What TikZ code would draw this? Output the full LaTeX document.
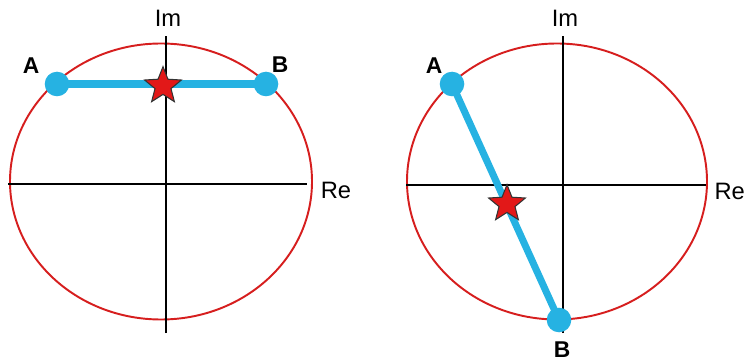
\documentclass[tikz,border=0pt]{standalone}
\usepackage{fontspec}
\setmainfont{Liberation Sans}
\usepackage{tikz}
\usetikzlibrary{shapes.geometric}
\definecolor{ringred}{RGB}{214,30,30}
\definecolor{chordblue}{RGB}{38,178,226}
\definecolor{starred}{RGB}{226,24,24}
\tikzset{
  ring/.style={draw=ringred,line width=1.1pt},
  axis/.style={draw=black,line width=1.4pt},
  chord/.style={draw=chordblue,line width=4pt},
  endpt/.style={circle,fill=chordblue,minimum size=14pt,inner sep=0pt},
  mid/.style={star,star points=5,star point ratio=2.3,minimum size=22pt,inner sep=0pt,fill=starred,draw=black!80,line width=0.6pt},
  lbl/.style={font=\fontsize{13.5}{15}\selectfont},
  ptlbl/.style={font=\fontsize{13}{15}\selectfont\bfseries}
}
\begin{document}
\begin{tikzpicture}[x=0.02cm,y=-0.02cm]
\useasboundingbox (0,0) rectangle (747,361);
% left: chord parallel to the real axis
\draw[ring] (161,181.5) ellipse [x radius=151,y radius=138];
\coordinate (l-re0) at (8,184);
\coordinate (l-re1) at (307,184);
\coordinate (l-im0) at (166,333);
\coordinate (l-im1) at (166,36);
\draw[axis] (l-re0) -- (l-re1);
\draw[axis] (l-im0) -- (l-im1);
\node[lbl] (l-im) at (168,18) {Im};
\node[lbl] (l-re) at (336,190) {Re};
\coordinate (l-pa) at (57,84);
\coordinate (l-pb) at (266,84);
\draw[chord] (l-pa) -- (l-pb);
\node[endpt] (l-a) at (l-pa) {};
\node[endpt] (l-b) at (l-pb) {};
\node[mid] (l-star) at (163,86) {};
\node[ptlbl] (l-la) at (31,66) {A};
\node[ptlbl] (l-lb) at (280,65) {B};
% right: chord through the lower left
\draw[ring] (557,181.5) ellipse [x radius=150,y radius=138];
\coordinate (r-re0) at (406,185);
\coordinate (r-re1) at (706,185);
\coordinate (r-im0) at (563,333);
\coordinate (r-im1) at (563,36);
\draw[axis] (r-re0) -- (r-re1);
\draw[axis] (r-im0) -- (r-im1);
\node[lbl] (r-im) at (565,18) {Im};
\node[lbl,anchor=east,inner xsep=1pt] (r-re) at (747,191) {Re};
\coordinate (r-pa) at (452,84);
\coordinate (r-pb) at (559,320);
\draw[chord] (r-pa) -- (r-pb);
\node[endpt] (r-a) at (r-pa) {};
\node[endpt] (r-b) at (r-pb) {};
\node[mid] (r-star) at (507,204) {};
\node[ptlbl] (r-la) at (434,66) {A};
\node[ptlbl] (r-lb) at (562,350) {B};
\end{tikzpicture}
\end{document}
